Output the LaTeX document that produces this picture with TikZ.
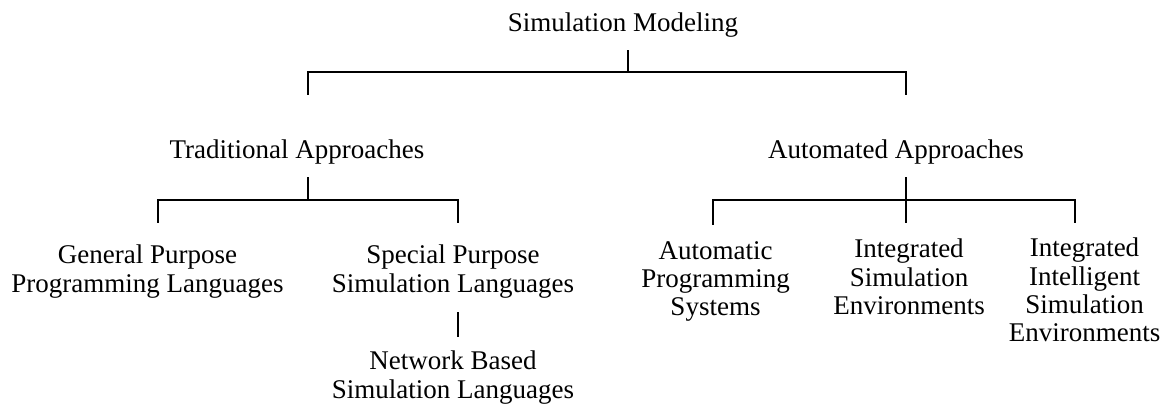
\documentclass[tikz,border=0pt]{standalone}
\usepackage{fontspec}
\setmainfont{Liberation Serif}
\usepackage{tikz}
\usetikzlibrary{positioning,calc}

\tikzset{
    label/.style={inner sep=0pt, align=center, font=\fontsize{27}{28.3}\selectfont},
    branch/.style={line width=1.8pt, line cap=rect},
}

\begin{document}
\begin{tikzpicture}[x=1pt, y=-1pt]
    \useasboundingbox (0,0) rectangle (1168,407);
    % Wurzel und erste Ebene
    \node[label, anchor=base] (sim)   at (623,31)  {Simulation Modeling};
    \node[label, anchor=base] (trad)  at (297,158) {Traditional Approaches};
    \node[label, anchor=base] (autom) at (896,158) {Automated Approaches};
    % Blaetter links
    \node[label, anchor=north] (gpl) at (147.5,245) {General Purpose\\Programming Languages};
    \node[label, anchor=north] (spl) at (453,245)   {Special Purpose\\Simulation Languages};
    \node[label, anchor=north] (nbl) at (453,351)   {Network Based\\Simulation Languages};
    % Blaetter rechts
    \node[label, anchor=north] (aps)  at (715.5,241) {Automatic\\Programming\\Systems};
    \node[label, anchor=north] (ise)  at (909,239)   {Integrated\\Simulation\\Environments};
    \node[label, anchor=north] (iise) at (1084.5,238) {Integrated\\Intelligent\\Simulation\\Environments};

    % Knickpunkte der Verbindungen
    \coordinate (sim-s)   at (628,51);
    \coordinate (sim-bar) at (628,72);
    \coordinate (trad-n)  at (308,94);
    \coordinate (autom-n) at (906,94);
    \coordinate (trad-s)  at (308,178);
    \coordinate (trad-bar) at (308,200);
    \coordinate (gpl-n)   at (158,222);
    \coordinate (spl-n)   at (458,222);
    \coordinate (spl-s)   at (458,313);
    \coordinate (nbl-n)   at (458,336);
    \coordinate (autom-s) at (906,178);
    \coordinate (ise-n)   at (906,222);
    \coordinate (aps-n)   at (713,224);
    \coordinate (iise-n)  at (1075,222);

    % Ebene 1
    \draw[branch] (sim-s) -- (sim-bar);
    \draw[branch] (trad-n) |- (autom-n |- sim-bar) -- (autom-n);
    % Ebene 2 links
    \draw[branch] (trad-s) -- (trad-bar);
    \draw[branch] (gpl-n) |- (spl-n |- trad-bar) -- (spl-n);
    \draw[branch] (spl-s) -- (nbl-n);
    % Ebene 2 rechts
    \draw[branch] (autom-s) -- (ise-n);
    \draw[branch] (aps-n) |- (iise-n |- trad-bar) -- (iise-n);
\end{tikzpicture}
\end{document}
